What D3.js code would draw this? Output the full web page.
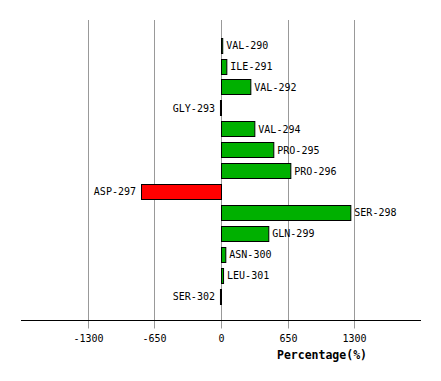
<!DOCTYPE html>
<html>
<head>
<meta charset="utf-8">
<script src="https://cdn.jsdelivr.net/npm/d3@7"></script>
<style>
  body { margin: 0; background: #fff; }
  text { font-family: "DejaVu Sans Mono", monospace; }
</style>
</head>
<body>
<div class="chart"></div>
<script>
// residues and their percentage values
const residues = ["VAL-290", "ILE-291", "VAL-292", "GLY-293", "VAL-294", "PRO-295", "PRO-296",
                  "ASP-297", "SER-298", "GLN-299", "ASN-300", "LEU-301", "SER-302"];
const percentages = [12, 52, 286, -10, 325, 510, 676, -780, 1261, 461, 42, 20, -10];
const tickValues = [-1300, -650, 0, 650, 1300];

const width = 441, height = 381;

const svg = d3.select(".chart").append("svg")
    .attr("width", width)
    .attr("height", height);

const x = d3.scaleLinear().domain([-1950, 1950]).range([21, 421]);
const y = d3.scaleBand().domain(residues).range([31.3, 309.8]).padding(0.3);

const axisY = 320.5;

// grid lines
svg.selectAll("line.grid")
    .data(tickValues)
    .enter().append("line")
    .attr("class", "grid")
    .attr("x1", d => Math.round(x(d)) + 0.5)
    .attr("x2", d => Math.round(x(d)) + 0.5)
    .attr("y1", 20)
    .attr("y2", axisY + 8)
    .attr("stroke", "#999")
    .attr("stroke-width", 1);

// axis line
svg.append("line")
    .attr("x1", 21).attr("x2", 421)
    .attr("y1", axisY).attr("y2", axisY)
    .attr("stroke", "#000");

// tick labels
svg.selectAll("text.tick")
    .data(tickValues)
    .enter().append("text")
    .attr("class", "tick")
    .attr("x", d => Math.round(x(d)) + 0.5)
    .attr("y", 342)
    .attr("text-anchor", "middle")
    .attr("font-size", 10)
    .text(d => d);

svg.append("text")
    .attr("x", 322)
    .attr("y", 359)
    .attr("text-anchor", "middle")
    .attr("font-size", 11.5)
    .attr("font-weight", "bold")
    .text("Percentage(%)");

const data = residues.map((r, i) => ({ name: r, value: percentages[i] }));

// bars
svg.selectAll("rect.bar")
    .data(data)
    .enter().append("rect")
    .attr("class", "bar")
    .attr("x", d => Math.min(x(0), x(d.value)) + 0.5)
    .attr("y", d => Math.round(y(d.name)) + 0.5)
    .attr("width", d => Math.abs(x(d.value) - x(0)))
    .attr("height", Math.round(y.bandwidth()))
    .attr("fill", d => d.value < 0 ? "#ff0000" : "#00b000")
    .attr("stroke", "#000")
    .attr("stroke-width", 1);

// labels
svg.selectAll("text.label")
    .data(data)
    .enter().append("text")
    .attr("class", "label")
    .attr("x", d => d.value < 0 ? x(d.value) - 5 : x(d.value) + 4)
    .attr("y", d => y(d.name) + y.bandwidth() / 2 + 4)
    .attr("text-anchor", d => d.value < 0 ? "end" : "start")
    .attr("font-size", 10)
    .text(d => d.name);
</script>
</body>
</html>
